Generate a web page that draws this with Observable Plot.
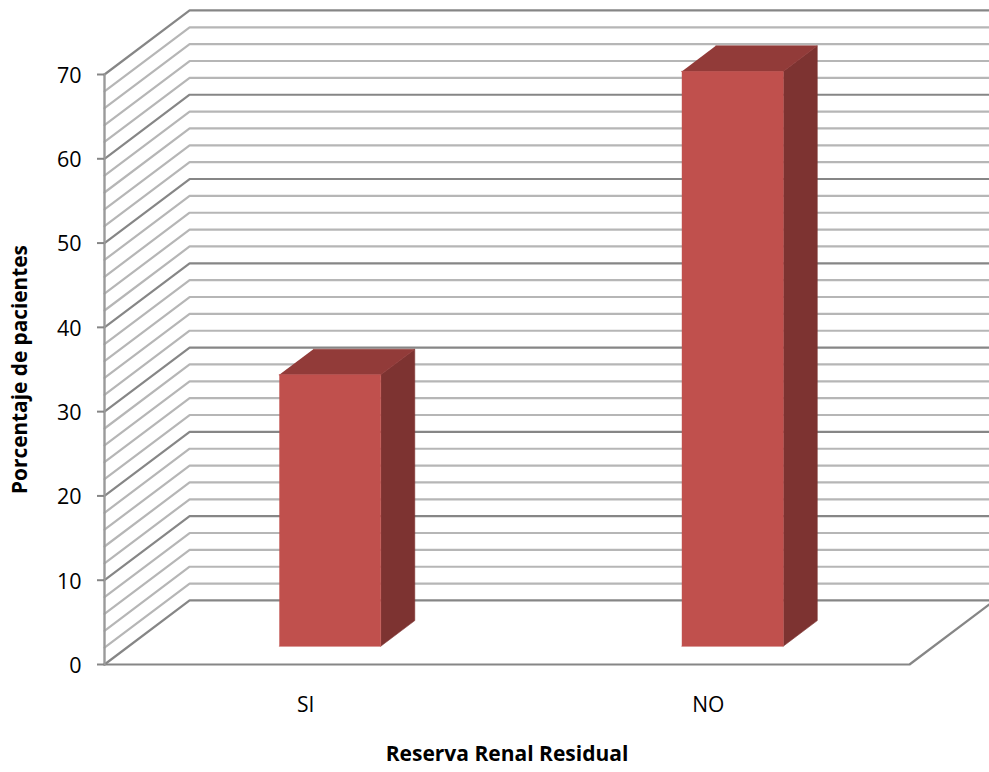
<!DOCTYPE html>
<html lang="es">
<head>
<meta charset="utf-8">
<script src="https://cdn.jsdelivr.net/npm/d3@7"></script>
<script src="https://cdn.jsdelivr.net/npm/@observablehq/plot@0.6"></script>
<style>
  html, body { margin: 0; padding: 0; background: #fff; overflow: hidden; }
  svg { display: block; }
</style>
</head>
<body>
<div id="chart"></div>
<script>
// Residual renal reserve: share of patients per answer
const categories = ["SI", "NO"];
const porcentajes = [32.2, 68.2];

const yMajor = [0, 10, 20, 30, 40, 50, 60, 70];
const yMinor = [2, 4, 6, 8, 12, 14, 16, 18, 22, 24, 26, 28, 32, 34, 36, 38,
                42, 44, 46, 48, 52, 54, 56, 58, 62, 64, 66, 68];

const colors = { front: "#c0504d", side: "#7d3331", top: "#923b39",
                 major: "#868686", minor: "#b6b6b6", axis: "#9a9a9a" };
const font = "'Open Sans', sans-serif";

// Oblique view: a depth of 0..1 slides a point to the right and upward in data units
const depthX = 0.2115;
const depthY = 7.6;
const barWidth = 0.252;
const barDepth = [0.285, 0.685];
const pt = (cat, value, depth) => ({ x: cat + depth * depthX, y: value + depth * depthY });

const catPos = categories.map((_, i) => i + 0.5);

// One path per wall gridline: along the left wall, then along the back wall
const gridPath = (v) => [pt(0, v, 0), pt(0, v, 1), pt(2, v, 1)];
const gridLine = (values, stroke) =>
  values.map((v) => Plot.line(gridPath(v), { x: "x", y: "y", stroke, strokeWidth: 2.2 }));

const face = (points, fill) =>
  Plot.line(points, { x: "x", y: "y", fill, stroke: fill, strokeWidth: 0.6 });

const barFaces = categories.flatMap((_, i) => {
  const v = porcentajes[i];
  const l = catPos[i] - barWidth / 2;
  const r = catPos[i] + barWidth / 2;
  const [d0, d1] = barDepth;
  return [
    face([pt(r, 0, d0), pt(r, 0, d1), pt(r, v, d1), pt(r, v, d0)], colors.side),
    face([pt(l, v, d0), pt(r, v, d0), pt(r, v, d1), pt(l, v, d1)], colors.top),
    face([pt(l, 0, d0), pt(r, 0, d0), pt(r, v, d0), pt(l, v, d0)], colors.front)
  ];
});

const chart = Plot.plot({
  width: 989,
  height: 772,
  marginLeft: 104,
  marginRight: 80,
  marginTop: 74,
  marginBottom: 108,
  style: { fontFamily: font, fontSize: "21px", color: "#000", background: "#fff" },
  x: { type: "linear", domain: [0, 2] },
  y: { type: "linear", domain: [0, 70] },
  marks: [
    ...gridLine(yMinor, colors.minor),
    ...gridLine(yMajor, colors.major),
    // Floor: front edge and right-hand edge
    Plot.line([pt(0, 0, 0), pt(2, 0, 0), pt(2, 0, 1)], { x: "x", y: "y", stroke: colors.major, strokeWidth: 2.2 }),
    // Vertical axis line
    Plot.line([pt(0, 0, 0), pt(0, 70, 0)], { x: "x", y: "y", stroke: colors.axis, strokeWidth: 2.4 }),
    ...barFaces,
    // Tick marks and tick labels are separate axes so the labels can sit just below their ticks
    Plot.axisY({
      ticks: yMajor, tickSize: 7, tickFormat: () => "", stroke: colors.major, strokeWidth: 2, label: null
    }),
    Plot.axisY({
      ticks: yMajor, tickSize: 0, tickPadding: 23, dy: 1.5, fontSize: 21.5, label: null
    }),
    Plot.axisX({
      ticks: catPos, tickSize: 0, tickPadding: 33, fontSize: 21,
      tickFormat: (d) => categories[catPos.indexOf(d)], label: null
    }),
    Plot.text(["Porcentaje de pacientes"], {
      frameAnchor: "left", textAnchor: "middle", dx: -84, rotate: -90,
      fontWeight: "bold", fontSize: 20.8, fill: "#000"
    }),
    Plot.text(["Reserva Renal Residual"], {
      frameAnchor: "bottom", dy: 96, fontWeight: "bold", fontSize: 21, fill: "#000"
    })
  ]
});

document.getElementById("chart").append(chart);
</script>
</body>
</html>
